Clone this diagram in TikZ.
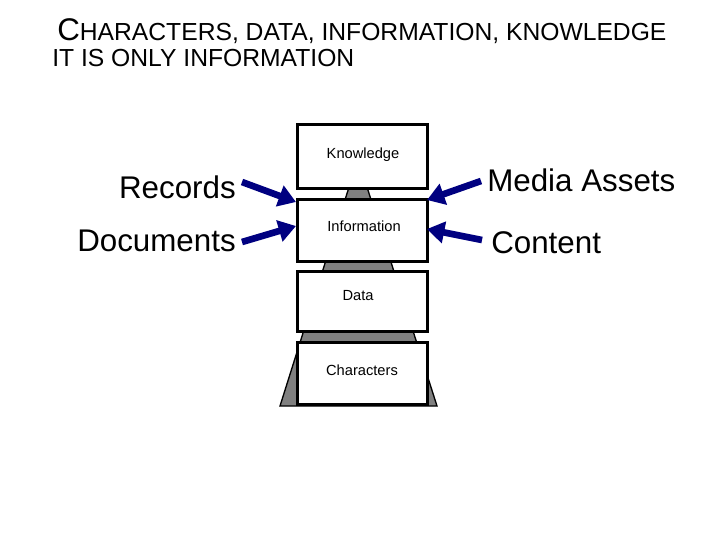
\documentclass[tikz,border=0pt]{standalone}
\usepackage{fontspec}
\setmainfont{Liberation Sans}
\usetikzlibrary{arrows.meta}
\definecolor{navy}{RGB}{0,0,128}
\definecolor{pgrey}{RGB}{128,128,128}
\begin{document}
\begin{tikzpicture}[x=0.75pt,y=-0.75pt,
  box/.style={draw=black,line width=2pt,fill=white,minimum width=97.5pt,minimum height=45pt,anchor=north west,inner sep=0pt},
  lbl/.style={font=\fontsize{11}{13}\selectfont},
  side/.style={font=\fontsize{23.5}{26}\selectfont,inner sep=0pt},
  arr/.style={draw=navy,line width=5pt,-{Triangle[length=13pt,width=16pt]}}]
\useasboundingbox (0,0) rectangle (720,540);
\node[anchor=west,inner sep=0pt] (t1) at (57,31) {\fontsize{23.5}{26}\selectfont C\fontsize{18.5}{22}\selectfont HARACTERS, DATA, INFORMATION, KNOWLEDGE};
\node[anchor=west,inner sep=0pt] (t2) at (52,58) {\fontsize{18.5}{22}\selectfont IT IS ONLY INFORMATION};
\fill[pgrey,draw=black,line width=1pt] (350,184) -- (366,184) -- (437,406) -- (280,406) -- cycle;
\node[box,minimum height=48pt] (k) at (296,123) {};
\node[lbl] at (363,155) {Knowledge};
\node[box,minimum height=46.5pt] (i) at (296,198) {};
\node[lbl] at (364,226) {Information};
\node[box] (d) at (296,270) {};
\node[lbl] at (358,296) {Data};
\node[box,minimum height=46.5pt] (c) at (296,341) {};
\node[lbl] at (362,370) {Characters};
\node[side,anchor=east] (r) at (236,187) {Records};
\node[side,anchor=east] (doc) at (236,241) {Documents};
\node[side,anchor=west] (m) at (487,180) {Media Assets};
\node[side,anchor=west] (co) at (491,243) {Content};
\coordinate (rt) at (296,202);
\coordinate (dt) at (296,226);
\coordinate (mt) at (427,200);
\coordinate (ct) at (427,229);
\draw[arr] (242,182) -- (rt);
\draw[arr] (242,242) -- (dt);
\draw[arr] (481,181) -- (mt);
\draw[arr] (482,240) -- (ct);
\end{tikzpicture}
\end{document}
